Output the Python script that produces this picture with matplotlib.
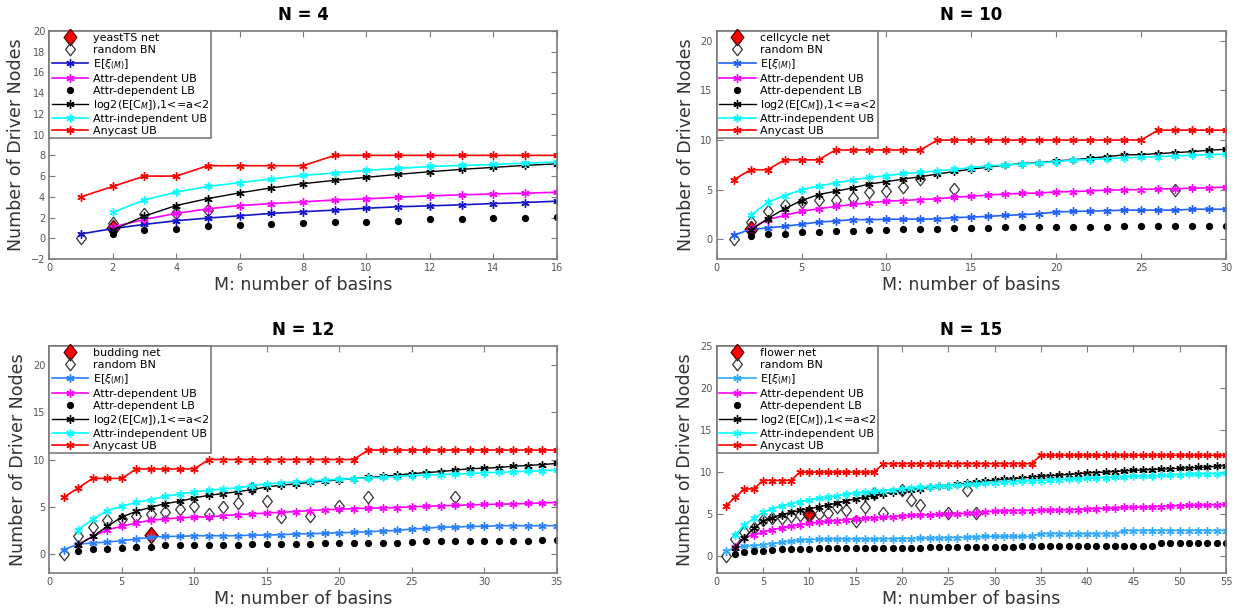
import numpy as np
import matplotlib.pyplot as plt

# ---------------- N = 4 (yeastTS) ----------------
n4_m = list(range(1, 17))
n4_net_m = [2]
n4_net_v = [1.0]
n4_rand_m = [1, 2, 3, 4, 5]
n4_rand_v = [0, 1.5, 2.3, 2.45, 2.75]
n4_exi = [0.42, 0.93, 1.34, 1.69, 1.95, 2.17, 2.4, 2.56, 2.72, 2.9, 3.04, 3.13, 3.23, 3.35, 3.45, 3.58]
n4_ubdep = [1.09, 1.82, 2.4, 2.84, 3.16, 3.35, 3.51, 3.7, 3.8, 3.96, 4.09, 4.19, 4.28, 4.35, 4.44]
n4_lbdep = [0.45, 0.83, 0.9, 1.15, 1.25, 1.34, 1.47, 1.6, 1.6, 1.69, 1.82, 1.82, 1.92, 1.92, 2.01]
n4_log2 = [0.8, 2.14, 3.16, 3.83, 4.38, 4.86, 5.27, 5.59, 5.88, 6.17, 6.42, 6.65, 6.84, 7.03, 7.18]
n4_indep = [2.5, 3.7, 4.45, 5.0, 5.37, 5.72, 6.07, 6.3, 6.55, 6.74, 6.93, 7.03, 7.12, 7.25, 7.35]
n4_any = [4, 5, 6, 6, 7, 7, 7, 7, 8, 8, 8, 8, 8, 8, 8, 8]

# ---------------- N = 10 (cellcycle) ----------------
n10_m = list(range(1, 31))
n10_net_m = [2]
n10_net_v = [1.0]
n10_rand_m = [1, 2, 3, 4, 5, 6, 7, 8, 9, 10, 11, 12, 14, 27]
n10_rand_v = [0, 1.73, 2.83, 3.4, 3.8, 3.97, 4.0, 4.17, 4.73, 4.9, 5.23, 6.07, 5.07, 5.0]
n10_exi = [0.4, 1.0, 1.13, 1.3, 1.5, 1.73, 1.83, 1.97, 1.97, 2.0, 2.02, 2.02, 2.05, 2.17, 2.23,
           2.3, 2.4, 2.47, 2.57, 2.75, 2.8, 2.83, 2.87, 2.93, 2.93, 2.93, 2.93, 3.02, 3.02, 3.02]
n10_ubdep = [1.07, 1.97, 2.4, 2.8, 3.07, 3.3, 3.5, 3.67, 3.83, 3.9, 4.0, 4.07, 4.23, 4.33, 4.45,
             4.55, 4.63, 4.65, 4.77, 4.8, 4.87, 4.95, 4.97, 5.0, 5.07, 5.08, 5.15, 5.17, 5.27]
n10_lbdep = [0.3, 0.57, 0.57, 0.73, 0.73, 0.83, 0.83, 0.97, 0.97, 1.07, 1.07, 1.07, 1.17, 1.17, 1.17,
             1.2, 1.23, 1.23, 1.23, 1.23, 1.23, 1.23, 1.37, 1.37, 1.37, 1.37, 1.37, 1.37, 1.37]
n10_log2 = [0.9, 2.07, 3.07, 3.9, 4.5, 4.83, 5.17, 5.57, 5.8, 6.07, 6.3, 6.57, 6.83, 7.07, 7.27,
            7.47, 7.63, 7.7, 7.9, 8.0, 8.17, 8.33, 8.5, 8.53, 8.63, 8.73, 8.83, 8.97, 9.07]
n10_indep = [2.4, 3.73, 4.4, 4.97, 5.37, 5.67, 5.97, 6.23, 6.4, 6.63, 6.73, 6.9, 7.03, 7.23, 7.38,
             7.5, 7.57, 7.67, 7.83, 7.97, 8.03, 8.13, 8.2, 8.27, 8.33, 8.4, 8.47, 8.53, 8.57]
n10_any = [6, 7, 7, 8, 8, 8, 9, 9, 9, 9, 9, 9, 10, 10, 10, 10, 10, 10, 10, 10, 10, 10, 10, 10, 10,
           11, 11, 11, 11, 11]

# ---------------- N = 12 (budding) ----------------
n12_m = list(range(1, 36))
n12_net_m = [7]
n12_net_v = [2.0]
n12_rand_m = [1, 2, 3, 4, 5, 6, 7, 8, 9, 10, 11, 12, 13, 14, 15, 16, 18, 20, 22, 28]
n12_rand_v = [0, 1.94, 2.83, 3.57, 3.71, 3.99, 4.2, 4.45, 4.8, 5.05, 4.28, 4.98, 5.4, 7.0, 5.65,
              3.92, 4.0, 5.05, 6.0, 6.0]
n12_exi = [0.46, 1.06, 1.17, 1.27, 1.41, 1.59, 1.77, 1.87, 1.87, 1.94, 1.94, 1.94, 1.94, 2.01, 2.01,
           2.05, 2.12, 2.15, 2.2, 2.25, 2.3, 2.35, 2.45, 2.5, 2.65, 2.72, 2.86, 2.86, 2.93, 2.93,
           3.0, 3.0, 3.0, 3.0, 3.0]
n12_ubdep = [1.0, 1.87, 2.58, 2.93, 3.29, 3.57, 3.71, 3.82, 3.92, 3.92, 4.06, 4.17, 4.24, 4.35, 4.42,
             4.49, 4.6, 4.68, 4.75, 4.8, 4.85, 4.88, 4.92, 5.0, 5.05, 5.1, 5.15, 5.2, 5.25, 5.28,
             5.3, 5.35, 5.4, 5.45]
n12_lbdep = [0.28, 0.57, 0.57, 0.64, 0.74, 0.74, 0.92, 0.92, 0.99, 0.99, 0.99, 0.99,
             1.1, 1.1, 1.1, 1.1, 1.1, 1.2, 1.2, 1.2, 1.2, 1.2, 1.2, 1.27,
             1.41, 1.41, 1.41, 1.41, 1.41, 1.41, 1.41, 1.41, 1.52, 1.52]
n12_log2 = [1.0, 1.87, 2.93, 3.92, 4.52, 4.95, 5.34, 5.58, 5.94, 6.22, 6.4, 6.6, 6.82, 7.1, 7.28,
            7.42, 7.6, 7.72, 7.85, 7.98, 8.1, 8.22, 8.35, 8.5, 8.62, 8.72, 8.88, 9.02, 9.08, 9.15,
            9.29, 9.36, 9.47, 9.58]
n12_indep = [2.58, 3.7, 4.6, 5.05, 5.48, 5.76, 6.1, 6.36, 6.57, 6.75, 6.9, 7.0, 7.24, 7.42, 7.53,
             7.63, 7.73, 7.82, 7.9, 7.98, 8.05, 8.12, 8.2, 8.3, 8.35, 8.4, 8.45, 8.52, 8.6, 8.65,
             8.7, 8.75, 8.82, 8.88]
n12_any = [6, 7, 8, 8, 8, 9, 9, 9, 9, 9, 10, 10, 10, 10, 10, 10, 10, 10, 10, 10, 10,
           11, 11, 11, 11, 11, 11, 11, 11, 11, 11, 11, 11, 11, 11]

# ---------------- N = 15 (flower) ----------------
n15_m = list(range(1, 56))
n15_net_m = [10]
n15_net_v = [5.0]
n15_rand_m = [1, 2, 3, 4, 5, 6, 7, 8, 9, 10, 11, 12, 13, 14, 15, 16, 17, 18, 20, 21, 22, 25, 27, 28]
n15_rand_v = [0, 2.05, 2.9, 3.4, 4.3, 4.5, 4.6, 4.8, 4.9, 5.0, 5.06, 5.1, 5.9, 5.45, 4.15, 5.9,
              7.5, 5.1, 7.9, 6.7, 6.1, 5.1, 7.9, 5.1]
n15_exi = [0.6, 1.0, 1.2, 1.26, 1.38, 1.5, 1.66, 1.78, 1.9, 1.98,
           2.02, 2.05, 2.05, 2.05, 2.05, 2.05, 2.05, 2.08, 2.08, 2.08,
           2.1, 2.13, 2.15, 2.18, 2.2, 2.22, 2.25, 2.3,
           2.35, 2.35, 2.35, 2.35, 2.35, 2.35,
           2.68, 2.68, 2.68, 2.68, 2.68, 2.68, 2.68, 2.68, 2.68,
           3.05, 3.05, 3.05, 3.05, 3.05, 3.05, 3.05, 3.05, 3.05, 3.05, 3.05, 3.05]
n15_ubdep = [1.1, 2.2, 2.57, 2.85, 3.16, 3.36, 3.56, 3.75, 3.9,
             4.03, 4.15, 4.23, 4.35, 4.45, 4.5, 4.55, 4.62, 4.7, 4.8,
             4.84, 4.88, 4.92, 4.96, 5.0, 5.05, 5.1, 5.18, 5.28, 5.35,
             5.38, 5.4, 5.42, 5.43, 5.45, 5.47, 5.5, 5.52, 5.55, 5.6,
             5.65, 5.68, 5.72, 5.8, 5.82, 5.84, 5.86, 5.9, 5.95, 6.0,
             6.03, 6.06, 6.09, 6.12, 6.15]
n15_lbdep = [0.3, 0.47, 0.6, 0.67, 0.75, 0.8, 0.87, 0.87, 0.87,
             0.95, 0.95, 0.95, 0.95, 0.95, 0.95, 1.03, 1.03, 1.03, 1.03,
             1.03, 1.03, 1.15, 1.15, 1.15, 1.15, 1.15, 1.15, 1.15, 1.15,
             1.15, 1.15, 1.25, 1.25, 1.25, 1.25, 1.25, 1.25, 1.25, 1.25,
             1.25, 1.25, 1.25, 1.25, 1.25, 1.25, 1.25, 1.55, 1.55, 1.55,
             1.55, 1.55, 1.55, 1.55, 1.55]
n15_log2 = [1.0, 2.2, 3.3, 4.2, 4.6, 4.95, 5.2, 5.45, 5.65,
            5.85, 6.1, 6.3, 6.6, 6.8, 7.0, 7.2, 7.4, 7.6, 7.8,
            7.9, 8.05, 8.2, 8.3, 8.4, 8.55, 8.65, 8.77, 8.9, 9.05,
            9.15, 9.2, 9.3, 9.4, 9.5, 9.55, 9.65, 9.7, 9.8, 9.9,
            9.95, 10.0, 10.05, 10.15, 10.2, 10.25, 10.3, 10.35, 10.4, 10.45,
            10.5, 10.55, 10.6, 10.7, 10.75]
n15_indep = [2.5, 3.75, 4.5, 5.2, 5.65, 6.0, 6.25, 6.5, 6.7,
             6.9, 7.0, 7.2, 7.4, 7.5, 7.6, 7.7, 7.8, 7.9, 8.0,
             8.1, 8.2, 8.26, 8.34, 8.4, 8.45, 8.55, 8.6, 8.65, 8.75,
             8.8, 8.85, 8.9, 8.95, 9.0, 9.05, 9.1, 9.15, 9.2, 9.25,
             9.3, 9.35, 9.4, 9.45, 9.5, 9.53, 9.57, 9.6, 9.65, 9.7,
             9.73, 9.76, 9.8, 9.83, 9.87]
n15_any = [6, 7, 8, 8, 9, 9, 9, 9] + [10] * 9 + [11] * 17 + [12] * 21

# open / filled diamond marker (MATLAB style, a bit taller than wide)
DIAMOND = [(0, 1), (0.78, 0), (0, -1), (-0.78, 0), (0, 1)]
STAR = (6, 2, 0)
AXIS_GREY = '#7a7a7a'


def draw_panel(ax, title, net_label, m, net_m, net_v, rand_m, rand_v, exi, ubdep, lbdep,
               log2c, indep, anyc, blue, xticks, ylim, yticks):
    m2 = m[1:]
    ax.plot(net_m, net_v, ls='none', marker=DIAMOND, ms=12, mfc='red', mec='#400000',
            mew=0.8, label=net_label)
    ax.plot(rand_m, rand_v, ls='none', marker=DIAMOND, ms=9, mfc='none', mec='#333333',
            mew=0.9, label='random BN')
    ax.plot(m, exi, color=blue, marker=STAR, ms=6, mew=1.0, lw=1.2, label=r'E[$\xi_{(M)}$]')
    ax.plot(m2, ubdep, color='#ff00ff', marker=STAR, ms=6, mew=1.0, lw=1.2,
            label='Attr-dependent UB')
    ax.plot(m2, lbdep, ls='none', color='black', marker='o', ms=4.2, label='Attr-dependent LB')
    ax.plot(m2, log2c, color='black', marker=STAR, ms=6, mew=1.0, lw=1.0,
            label=r'log2(E[C$_{M}$]),1<=a<2')
    ax.plot(m2, indep, color='#00ffff', marker=STAR, ms=6, mew=1.0, lw=1.2,
            label='Attr-independent UB')
    ax.plot(m, anyc, color='#ff0000', marker=STAR, ms=6, mew=1.0, lw=1.2, label='Anycast UB')

    ax.set_xlim(0, m[-1])
    ax.set_ylim(*ylim)
    ax.set_xticks(xticks)
    ax.set_yticks(yticks)
    ax.tick_params(direction='in', length=4, width=0.8, color=AXIS_GREY, labelsize=7,
                   labelcolor='#555555', top=True, right=True, pad=3)
    for sp in ax.spines.values():
        sp.set_color(AXIS_GREY)
        sp.set_linewidth(1.2)
    ax.set_title(title, fontsize=12, fontweight='bold', pad=8)
    ax.set_xlabel('M: number of basins', fontsize=12.5, color='#333333', labelpad=2)
    ax.set_ylabel('Number of Driver Nodes', fontsize=12.5, color='#333333', labelpad=4)

    leg = ax.legend(loc='upper left', bbox_to_anchor=(0, 1), borderaxespad=0, fontsize=8,
                    fancybox=False, framealpha=1, edgecolor=AXIS_GREY, handlelength=3.3,
                    handletextpad=0.4, labelspacing=0.18, borderpad=0.2, numpoints=1)
    leg.get_frame().set_linewidth(1.2)


fig = plt.figure(figsize=(12.39, 6.08), dpi=100)
W, H = 1239.0, 608.0
ax1 = fig.add_axes([49.3 / W, 1 - 259 / H, 507.4 / W, 228 / H])
ax2 = fig.add_axes([716.7 / W, 1 - 259 / H, 509.3 / W, 228 / H])
ax3 = fig.add_axes([49.3 / W, 1 - 573 / H, 507.4 / W, 227 / H])
ax4 = fig.add_axes([716.7 / W, 1 - 573 / H, 509.3 / W, 227 / H])

draw_panel(ax1, 'N = 4', 'yeastTS net', n4_m, n4_net_m, n4_net_v, n4_rand_m, n4_rand_v,
           n4_exi, n4_ubdep, n4_lbdep, n4_log2, n4_indep, n4_any, '#1414c8',
           range(0, 17, 2), (-2, 20), range(-2, 21, 2))
draw_panel(ax2, 'N = 10', 'cellcycle net', n10_m, n10_net_m, n10_net_v, n10_rand_m, n10_rand_v,
           n10_exi, n10_ubdep, n10_lbdep, n10_log2, n10_indep, n10_any, '#2060ff',
           range(0, 31, 5), (-2, 21), range(0, 21, 5))
draw_panel(ax3, 'N = 12', 'budding net', n12_m, n12_net_m, n12_net_v, n12_rand_m, n12_rand_v,
           n12_exi, n12_ubdep, n12_lbdep, n12_log2, n12_indep, n12_any, '#2a80ff',
           range(0, 36, 5), (-2, 22), range(0, 21, 5))
draw_panel(ax4, 'N = 15', 'flower net', n15_m, n15_net_m, n15_net_v, n15_rand_m, n15_rand_v,
           n15_exi, n15_ubdep, n15_lbdep, n15_log2, n15_indep, n15_any, '#33aaff',
           range(0, 56, 5), (-2, 25), range(0, 26, 5))

fig.savefig('out.png', dpi=100, facecolor='white')
